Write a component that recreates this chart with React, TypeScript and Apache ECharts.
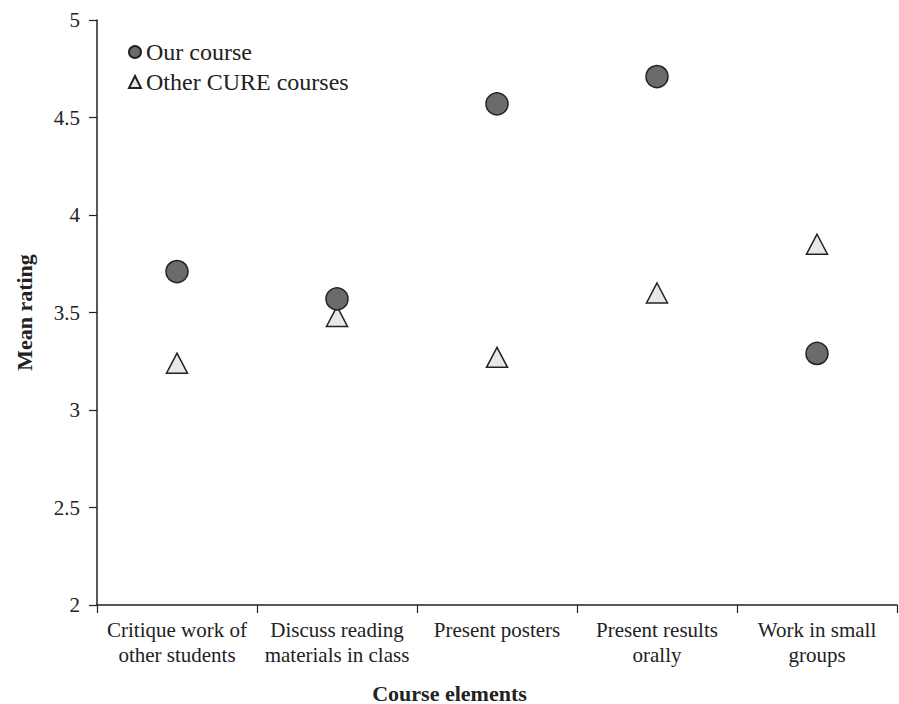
import React, { useEffect, useRef } from "react";
import * as echarts from "echarts";

const categories = [
  "Critique work of\nother students",
  "Discuss reading\nmaterials in class",
  "Present posters",
  "Present results\norally",
  "Work in small\ngroups",
];
const ourCourse = [3.71, 3.57, 4.57, 4.71, 3.29];
const otherCure = [3.24, 3.48, 3.27, 3.6, 3.85];
const seriesNames = ["Our course", "Other CURE courses"];
const xTitle = "Course elements";
const yTitle = "Mean rating";
const yMin = 2;
const yMax = 5;
const yStep = 0.5;

const FONT = "'Liberation Serif', 'Times New Roman', Times, serif";
const INK = "#222222";

export default function App() {
  const ref = useRef<HTMLDivElement>(null);
  useEffect(() => {
    if (!ref.current) return;
    const chart = echarts.init(ref.current, undefined, { renderer: "svg" });
    chart.setOption({
      animation: false,
      backgroundColor: "#ffffff",
      textStyle: { fontFamily: FONT, color: INK },
      grid: { left: 97, right: 2, top: 20, bottom: 99, containLabel: false },
      title: {
        text: xTitle,
        left: "center",
        top: 682,
        padding: 0,
        textStyle: { fontFamily: FONT, fontSize: 22, lineHeight: 22, fontWeight: "bold", color: INK },
      },
      legend: {
        orient: "vertical",
        left: 128,
        top: 40,
        padding: 0,
        itemWidth: 12,
        itemHeight: 12,
        itemGap: 6,
        textStyle: { fontFamily: FONT, fontSize: 24, color: INK, lineHeight: 24 },
        data: [
          { name: seriesNames[0], icon: "circle" },
          { name: seriesNames[1], icon: "triangle" },
        ],
      },
      xAxis: {
        type: "category",
        data: categories,
        boundaryGap: true,
        axisLine: { lineStyle: { color: INK, width: 1.5 } },
        axisTick: { show: true, length: 8, lineStyle: { color: INK, width: 1.2 } },
        axisLabel: {
          interval: 0,
          margin: 12,
          fontFamily: FONT,
          fontSize: 21,
          lineHeight: 25,
          color: INK,
        },
        splitLine: { show: false },
      },
      yAxis: {
        type: "value",
        min: yMin,
        max: yMax,
        interval: yStep,
        name: yTitle,
        nameLocation: "middle",
        nameRotate: 90,
        nameGap: 62,
        nameTextStyle: { fontFamily: FONT, fontSize: 22, fontWeight: "bold", color: INK },
        axisLine: { show: true, lineStyle: { color: INK, width: 1.5 } },
        axisTick: { show: true, length: 8, lineStyle: { color: INK, width: 1.2 } },
        axisLabel: { margin: 17, fontFamily: FONT, fontSize: 21, color: INK },
        splitLine: { show: false },
      },
      series: [
        {
          name: seriesNames[0],
          type: "scatter",
          data: ourCourse,
          symbol: "circle",
          symbolSize: 22,
          z: 3,
          itemStyle: { color: "#6b6b6b", borderColor: INK, borderWidth: 1.5, opacity: 1 },
        },
        {
          name: seriesNames[1],
          type: "scatter",
          data: otherCure,
          symbol: "triangle",
          symbolSize: [21, 20],
          z: 2,
          itemStyle: { color: "#e8e8e8", borderColor: INK, borderWidth: 1.5, opacity: 1 },
        },
      ],
    });
    return () => chart.dispose();
  }, []);
  return (
    <div
      ref={ref}
      style={{ position: "fixed", left: 0, top: 0, width: 899, height: 704 }}
    />
  );
}
